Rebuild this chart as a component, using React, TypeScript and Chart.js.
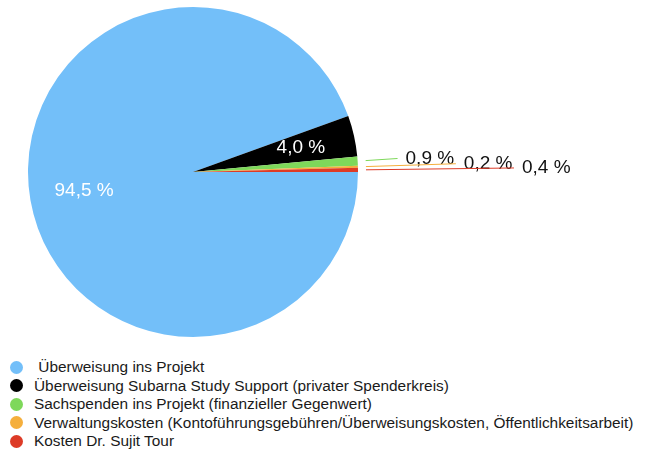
import React, { useEffect, useRef } from "react";
import { Chart, registerables } from "chart.js";

Chart.register(...registerables);

const categories = [
  "Überweisung ins Projekt",
  "Überweisung Subarna Study Support (privater Spenderkreis)",
  "Sachspenden ins Projekt (finanzieller Gegenwert)",
  "Verwaltungskosten (Kontoführungsgebühren/Überweisungskosten, Öffentlichkeitsarbeit)",
  "Kosten Dr. Sujit Tour",
];
const values = [94.5, 4.0, 0.9, 0.2, 0.4];
const colors = ["#73BFF9", "#000000", "#7ED85A", "#F5AF3C", "#DD3B27"];

const FONT = '"Liberation Sans", Arial, Helvetica, sans-serif';

const labelPlugin = {
  id: "sliceLabels",
  afterDatasetsDraw(chart: any) {
    const ctx = chart.ctx;
    const meta = chart.getDatasetMeta(0);
    const data = chart.data.datasets[0].data as number[];
    const total = data.reduce((a, b) => a + b, 0);
    let k = 0;
    ctx.save();
    ctx.font = `19px ${FONT}`;
    meta.data.forEach((arc: any, i: number) => {
      const { x, y, startAngle, endAngle, outerRadius } = arc.getProps(
        ["x", "y", "startAngle", "endAngle", "outerRadius"],
        true
      );
      const mid = (startAngle + endAngle) / 2;
      const pct = (data[i] / total) * 100;
      const text = pct.toFixed(1).replace(".", ",") + " %";
      const cos = Math.cos(mid);
      const sin = Math.sin(mid);
      if (pct >= 2) {
        const r = outerRadius * 0.67;
        ctx.fillStyle = "#ffffff";
        ctx.textAlign = "center";
        ctx.textBaseline = "middle";
        ctx.fillText(text, x + cos * r, y + sin * r);
      } else {
        const r0 = outerRadius + 8;
        const r1 = outerRadius + 40 + 58 * k;
        const x0 = x + cos * r0;
        const y0 = y + sin * r0;
        const x1 = x + cos * r1;
        const y1 = y + sin * r1;
        ctx.strokeStyle = colors[i];
        ctx.lineWidth = 1;
        ctx.beginPath();
        ctx.moveTo(x0, y0);
        ctx.lineTo(x1, y1);
        ctx.stroke();
        ctx.fillStyle = "#111111";
        ctx.textAlign = "left";
        ctx.textBaseline = "middle";
        ctx.fillText(text, x1 + 8, y1);
        k++;
      }
    });
    ctx.restore();
  },
};

export default function App() {
  const ref = useRef<HTMLCanvasElement | null>(null);

  useEffect(() => {
    if (!ref.current) return;
    const chart = new Chart(ref.current, {
      type: "pie",
      data: {
        labels: categories,
        datasets: [
          {
            data: values,
            backgroundColor: colors,
            borderWidth: 0,
          },
        ],
      },
      options: {
        responsive: false,
        animation: false,
        rotation: 90,
        layout: { padding: { left: 28, top: 7, right: 289, bottom: 8 } },
        plugins: {
          legend: { display: false },
          tooltip: { enabled: false },
        },
      },
      plugins: [labelPlugin],
    });
    return () => chart.destroy();
  }, []);

  return (
    <div
      style={{
        position: "absolute",
        left: 0,
        top: 0,
        width: 647,
        height: 450,
        background: "#fff",
        fontFamily: FONT,
      }}
    >
      <canvas
        ref={ref}
        width={647}
        height={345}
        style={{ position: "absolute", left: 0, top: 0, width: 647, height: 345 }}
      />
      <div style={{ position: "absolute", left: 10, top: 358 }}>
        {categories.map((c, i) => (
          <div
            key={c}
            style={{
              display: "flex",
              alignItems: "center",
              height: 18.5,
              fontSize: 15.4,
              color: "#1a1a1a",
              whiteSpace: "nowrap",
            }}
          >
            <span
              style={{
                display: "inline-block",
                width: 13,
                height: 13,
                borderRadius: "50%",
                background: colors[i],
                marginRight: 11,
                flex: "none",
              }}
            />
            <span>{i === 0 ? "\u00a0" + c : c}</span>
          </div>
        ))}
      </div>
    </div>
  );
}
